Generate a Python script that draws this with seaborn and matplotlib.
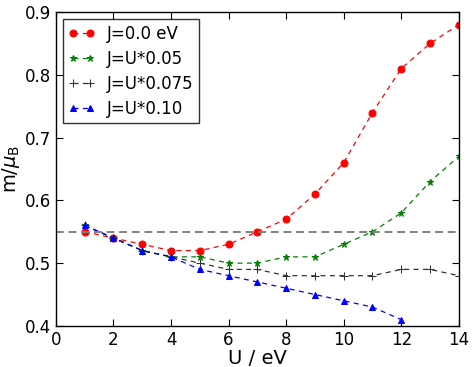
# plot.py
# Magnetic moment vs U for several Hund's J values
import numpy as np
import pandas as pd
import seaborn as sns
import matplotlib.pyplot as plt

u_full = [1, 2, 3, 4, 5, 6, 7, 8, 9, 10, 11, 12, 13, 14]
u_blue = [1, 2, 3, 4, 5, 6, 7, 8, 9, 10, 11, 12]

m_j0 = [0.55, 0.54, 0.53, 0.52, 0.52, 0.53, 0.55, 0.57, 0.61, 0.66, 0.74, 0.81, 0.85, 0.88]
m_j005 = [0.56, 0.54, 0.52, 0.51, 0.51, 0.50, 0.50, 0.51, 0.51, 0.53, 0.55, 0.58, 0.63, 0.67]
m_j0075 = [0.56, 0.54, 0.52, 0.51, 0.50, 0.49, 0.49, 0.48, 0.48, 0.48, 0.48, 0.49, 0.49, 0.48]
m_j010 = [0.56, 0.54, 0.52, 0.51, 0.49, 0.48, 0.47, 0.46, 0.45, 0.44, 0.43, 0.41]
ref_level = 0.55

labels = ["J=0.0 eV", "J=U*0.05", "J=U*0.075", "J=U*0.10"]

sns.set_style("ticks")
plt.rcParams["font.family"] = ["DejaVu Sans"]
plt.rcParams["text.color"] = "black"
plt.rcParams["axes.labelcolor"] = "black"
plt.rcParams["xtick.color"] = "black"
plt.rcParams["ytick.color"] = "black"
plt.rcParams["axes.edgecolor"] = "black"

fig, ax = plt.subplots(figsize=(4.74, 3.67), dpi=100)

series = [
    (u_full, m_j0, "red", "o", 5),
    (u_full, m_j005, "green", "*", 5),
    (u_full, m_j0075, "#333333", "+", 6),
    (u_blue, m_j010, "blue", "^", 5),
]
for (x, y, c, mk, ms), lab in zip(series, labels):
    df = pd.DataFrame({"U": x, "m": y})
    sns.lineplot(data=df, x="U", y="m", ax=ax, color=c, marker=mk, markersize=ms,
                 markeredgecolor=c, linestyle=(0, (4, 3.5)), linewidth=0.9, label=lab)

ax.axhline(ref_level, color="gray", linestyle=(0, (4, 2.5)), linewidth=1.4)

ax.set_xlim(0, 14)
ax.set_ylim(0.4, 0.9)
ax.set_xticks(range(0, 15, 2))
ax.set_yticks(np.arange(0.4, 0.91, 0.1))
ax.tick_params(direction="in", top=True, right=True, labelsize=12, length=5, width=0.8)
for s in ax.spines.values():
    s.set_visible(True)
    s.set_linewidth(1.0)
ax.set_xlabel("U / eV", fontsize=14, labelpad=0)
ax.set_ylabel(r"m/$\mu_\mathrm{B}$", fontsize=14, labelpad=2)

leg = ax.legend(loc="upper left", fontsize=12, frameon=True, fancybox=False,
                handlelength=1.6, handletextpad=0.7, borderpad=0.35,
                labelspacing=0.42, numpoints=2, borderaxespad=0.4)
leg.get_frame().set_edgecolor("black")

fig.subplots_adjust(left=0.118, right=0.968, top=0.967, bottom=0.112)
fig.savefig("out.png", dpi=100)
plt.close()
